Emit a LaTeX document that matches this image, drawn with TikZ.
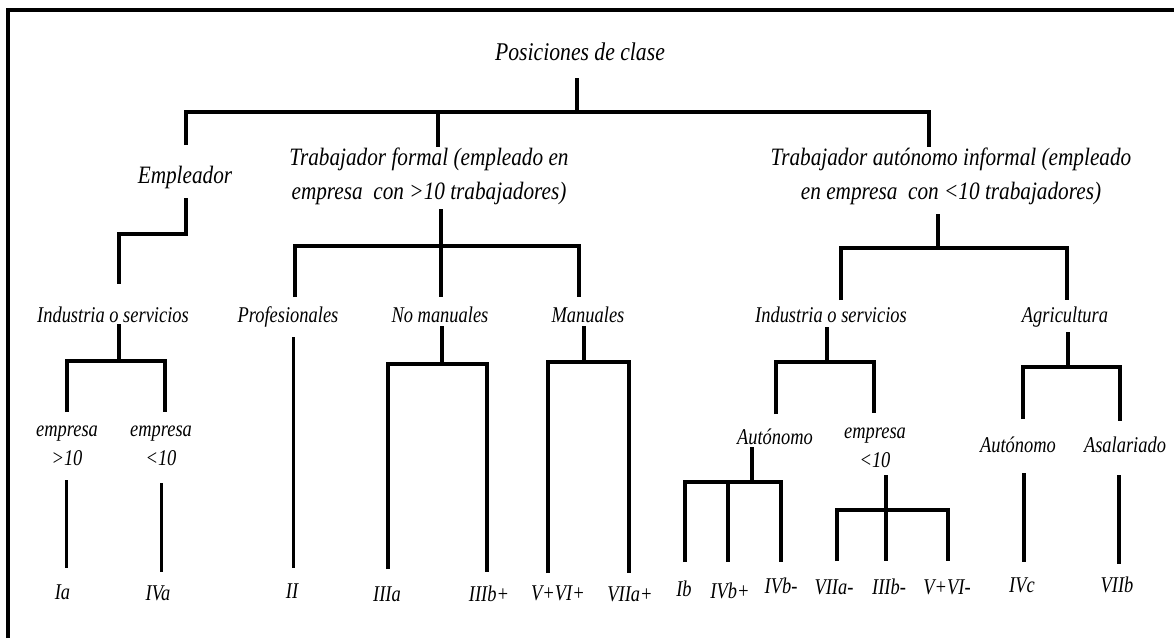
\documentclass[tikz,border=0pt]{standalone}
\usepackage{fontspec}
\newfontfamily\serifit{Liberation Serif}[FakeStretch=0.82]
\newfontfamily\serifitu{Liberation Serif}[FakeStretch=0.85]
\newcommand\lofont{\serifit\itshape\fontsize{22.5}{29}\selectfont}
\newcommand\upfont{\serifitu\itshape\fontsize{25}{34}\selectfont}
\newcommand\rootfont{\serifitu\itshape\fontsize{25.5}{34}\selectfont}
\begin{document}
\begin{tikzpicture}[x=1pt,y=-1pt,
  lo/.style={font=\lofont, inner sep=0pt, anchor=base},
  lotwo/.style={font=\lofont, inner sep=0pt, anchor=center, align=center},
  up/.style={font=\upfont, inner sep=0pt, anchor=center, align=center},
  conn/.style={line width=3.2pt, line join=miter},
  thin/.style={line width=3pt},
  frame/.style={line width=3.5pt}]
\useasboundingbox (0,0) rectangle (1174,638);
% frame
\coordinate (fb) at (8,638);
\coordinate (fc) at (8,10);
\coordinate (fr) at (1174,10);
\draw[frame] (fb) -- (fc) -- (fr);

% upper labels
\node[font=\rootfont, inner sep=0pt] (root) at (580,52) {Posiciones de clase};
\node[up] (emp) at (185,177) {Empleador};
\node[up] (tf) at (429,176) {Trabajador formal (empleado en\\empresa~ con >10 trabajadores)};
\node[up] (ti) at (951,176) {Trabajador autónomo informal (empleado\\en empresa~ con <10 trabajadores)};

% second level
\node[lo] (ind1) at (113,322) {Industria o servicios};
\node[lo] (prof) at (288,322) {Profesionales};
\node[lo] (nom) at (440,322) {No manuales};
\node[lo] (man) at (588,322) {Manuales};
\node[lo] (ind2) at (831,322) {Industria o servicios};
\node[lo] (agr) at (1065,322) {Agricultura};

% third level
\node[lotwo] (e1) at (67,446) {empresa\\>10};
\node[lotwo] (e2) at (161,446) {empresa\\<10};
\node[lo] (aut1) at (775,444) {Autónomo};
\node[lotwo] (e3) at (875,448) {empresa\\<10};
\node[lo] (aut2) at (1018,452) {Autónomo};
\node[lo] (asa) at (1125,452) {Asalariado};

% leaves
\node[lo] (Ia) at (62.5,599) {Ia};
\node[lo] (IVa) at (158,600) {IVa};
\node[lo] (II) at (292,598) {II};
\node[lo] (IIIa) at (387,601) {IIIa};
\node[lo] (IIIbp) at (489,601) {IIIb+};
\node[lo] (VVIp) at (558,600) {V+VI+};
\node[lo] (VIIap) at (630,601) {VIIa+};
\node[lo] (Ib) at (684,596) {Ib};
\node[lo] (IVbp) at (730,598) {IVb+};
\node[lo] (IVbm) at (781,593) {IVb-};
\node[lo] (VIIam) at (834,594) {VIIa-};
\node[lo] (IIIbm) at (889,594) {IIIb-};
\node[lo] (VVIm) at (947,594) {V+VI-};
\node[lo] (IVc) at (1022,592) {IVc};
\node[lo] (VIIb) at (1117,592) {VIIb};

% connector coordinates
\coordinate (rS) at (577,78);   \coordinate (rJ) at (577,112);
\coordinate (empT) at (186,145); \coordinate (tfT) at (438,147); \coordinate (tiT) at (929,147);
% root bracket
\draw[conn] (rS) -- (rJ);
\draw[conn] (empT) |- (tiT |- rJ) -- (tiT);
\draw[conn] (tfT |- rJ) -- (tfT);

% Empleador
\coordinate (empS) at (186,198); \coordinate (empB) at (186,234); \coordinate (ind1T) at (119,284);
\draw[conn] (empS) -- (empB) -| (ind1T);

% Trabajador formal
\coordinate (tfS) at (441,209); \coordinate (tfJ) at (441,246);
\coordinate (profT) at (295,297); \coordinate (nomT) at (441,297); \coordinate (manT) at (579,297);
\draw[conn] (tfS) -- (nomT);
\draw[conn] (profT) |- (tfJ) -| (manT);

% Trabajador informal
\coordinate (tiS) at (938,214); \coordinate (tiJ) at (938,248);
\coordinate (ind2T) at (841,300); \coordinate (agrT) at (1067,300);
\draw[conn] (tiS) -- (tiJ);
\draw[conn] (ind2T) |- (tiJ) -| (agrT);

% Industria left
\coordinate (i1S) at (119,324); \coordinate (i1J) at (119,361);
\coordinate (e1T) at (67,412); \coordinate (e2T) at (165,412);
\draw[conn] (i1S) -- (i1J);
\draw[conn] (e1T) |- (i1J) -| (e2T);
\coordinate (e1S) at (66,480); \coordinate (IaT) at (66,568);
\coordinate (e2S) at (161,483); \coordinate (IVaT) at (161,572);
\draw[thin] (e1S) -- (IaT);
\draw[thin] (e2S) -- (IVaT);

% Profesionales
\coordinate (profS) at (293,337); \coordinate (IIT) at (293,568);
\draw[thin] (profS) -- (IIT);

% No manuales
\coordinate (nomS) at (442,326); \coordinate (nomJ) at (442,364);
\coordinate (IIIaT) at (388,569); \coordinate (IIIbpT) at (487,572);
\draw[conn] (nomS) -- (nomJ);
\draw[conn] (IIIaT) |- (nomJ) -| (IIIbpT);

% Manuales
\coordinate (manS) at (584,326); \coordinate (manJ) at (584,362);
\coordinate (VVIpT) at (548,573); \coordinate (VIIapT) at (629,573);
\draw[conn] (manS) -- (manJ);
\draw[conn] (VVIpT) |- (manJ) -| (VIIapT);

% Industria right
\coordinate (i2S) at (827,327); \coordinate (i2J) at (827,362);
\coordinate (aut1T) at (776,414); \coordinate (e3T) at (874,413);
\draw[conn] (i2S) -- (i2J);
\draw[conn] (aut1T) |- (i2J) -| (e3T);

% Autonomo (industria)
\coordinate (a1S) at (752,447); \coordinate (a1J) at (752,482);
\coordinate (IbT) at (685,562); \coordinate (IVbpT) at (728,562); \coordinate (IVbmT) at (781,562);
\draw[conn] (a1S) -- (a1J);
\draw[conn] (IbT) |- (a1J) -| (IVbmT);
\draw[conn] (IVbpT |- a1J) -- (IVbpT);

% empresa <10 (industria)
\coordinate (e3S) at (886,475); \coordinate (e3J) at (886,510);
\coordinate (VIIamT) at (837,561); \coordinate (IIIbmT) at (886,561); \coordinate (VVImT) at (948,561);
\draw[conn] (e3S) -- (IIIbmT);
\draw[conn] (VIIamT) |- (e3J) -| (VVImT);

% Agricultura
\coordinate (agS) at (1068,332); \coordinate (agJ) at (1068,367);
\coordinate (aut2T) at (1023,419); \coordinate (asaT) at (1120,421);
\draw[conn] (agS) -- (agJ);
\draw[conn] (aut2T) |- (agJ) -| (asaT);
\coordinate (a2S) at (1024,473); \coordinate (IVcT) at (1024,562);
\coordinate (asS) at (1119,475); \coordinate (VIIbT) at (1119,564);
\draw[conn] (a2S) -- (IVcT);
\draw[conn] (asS) -- (VIIbT);
\end{tikzpicture}
\end{document}
